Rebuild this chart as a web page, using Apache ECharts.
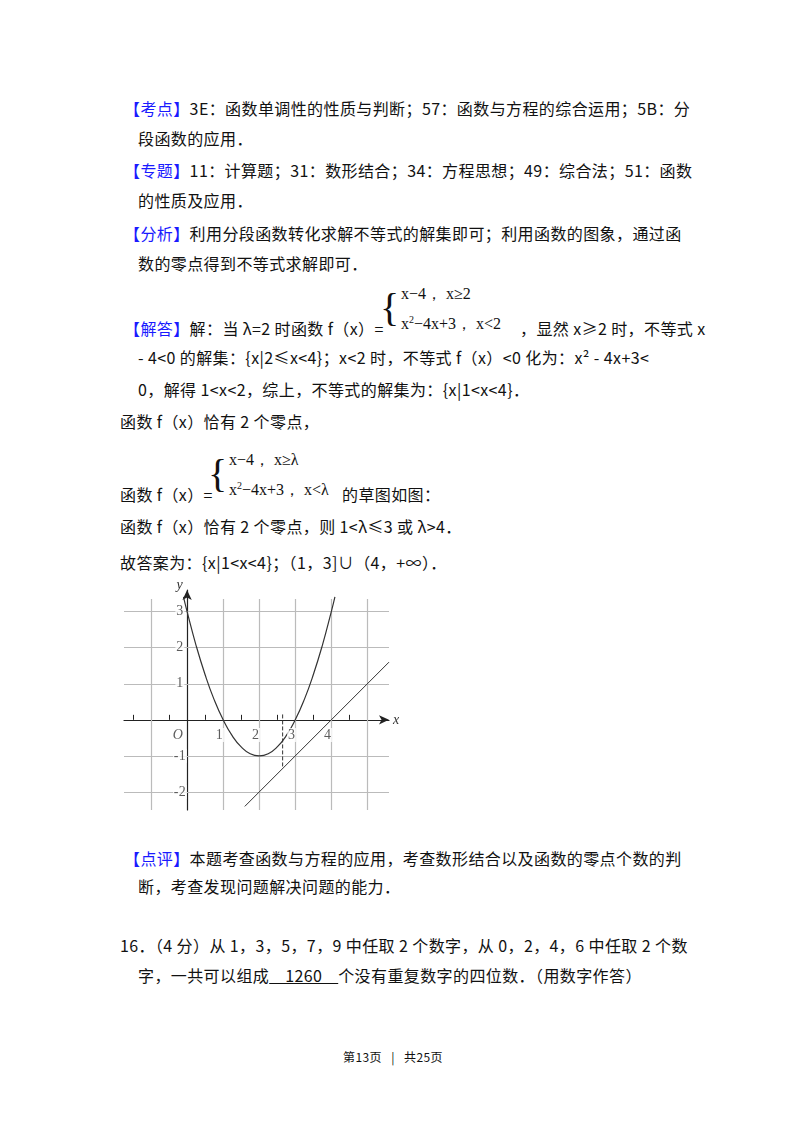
<!DOCTYPE html>
<html><head><meta charset="utf-8">
<script src="https://cdn.jsdelivr.net/npm/echarts@6/dist/echarts.min.js"></script>
<style>
body{margin:0;background:#fff;}
#page{position:relative;width:800px;height:1132px;font-family:"Noto Sans CJK SC","Noto Sans",sans-serif;font-size:16px;letter-spacing:0.4px;color:#111;}
.t{position:absolute;white-space:nowrap;line-height:20px;}
.b{color:#1a1aff;}
.m{font-family:"Liberation Serif",serif;font-size:16px;letter-spacing:0;}
.br{font-family:"Liberation Serif",serif;font-size:40px;line-height:48px;}
#chart{position:absolute;left:120px;top:580px;width:280px;height:240px;}
</style></head><body>
<div id="page">
<div class="t" style="left:124px;top:98px"><span class="b">【考点】</span>3E：函数单调性的性质与判断；57：函数与方程的综合运用；5B：分</div>
<div class="t" style="left:138px;top:128px">段函数的应用．</div>
<div class="t" style="left:124px;top:160px"><span class="b">【专题】</span>11：计算题；31：数形结合；34：方程思想；49：综合法；51：函数</div>
<div class="t" style="left:138px;top:190px">的性质及应用．</div>
<div class="t" style="left:124px;top:223px"><span class="b">【分析】</span>利用分段函数转化求解不等式的解集即可；利用函数的图象，通过函</div>
<div class="t" style="left:138px;top:253px">数的零点得到不等式求解即可．</div>
<div class="t br" style="left:380px;top:284px">{</div>
<div class="t m" style="left:401px;top:284px">x−4， x≥2</div>
<div class="t m" style="left:401px;top:310px">x<sup style="font-size:10px">2</sup>−4x+3， x&lt;2</div>
<div class="t" style="left:124px;top:318px"><span class="b">【解答】</span>解：当 λ=2 时函数 f（x）=</div>
<div class="t" style="left:520px;top:318px">，显然 x≥2 时，不等式 x</div>
<div class="t" style="left:138px;top:347px">- 4&lt;0 的解集：{x|2≤x&lt;4}；x&lt;2 时，不等式 f（x）&lt;0 化为：x² - 4x+3&lt;</div>
<div class="t" style="left:138px;top:379px">0，解得 1&lt;x&lt;2，综上，不等式的解集为：{x|1&lt;x&lt;4}．</div>
<div class="t" style="left:120px;top:411px">函数 f（x）恰有 2 个零点，</div>
<div class="t br" style="left:208px;top:450px">{</div>
<div class="t m" style="left:229px;top:450px">x−4， x≥λ</div>
<div class="t m" style="left:229px;top:476px">x<sup style="font-size:10px">2</sup>−4x+3， x&lt;λ</div>
<div class="t" style="left:120px;top:484px">函数 f（x）=</div>
<div class="t" style="left:342px;top:484px">的草图如图：</div>
<div class="t" style="left:120px;top:516px">函数 f（x）恰有 2 个零点，则 1&lt;λ≤3 或 λ&gt;4．</div>
<div class="t" style="left:120px;top:552px">故答案为：{x|1&lt;x&lt;4}；（1，3]∪（4，+∞）．</div>
<div id="chart"></div>
<div class="t" style="left:124px;top:848px"><span class="b">【点评】</span>本题考查函数与方程的应用，考查数形结合以及函数的零点个数的判</div>
<div class="t" style="left:138px;top:876px">断，考查发现问题解决问题的能力．</div>
<div class="t" style="left:120px;top:935px">16．（4 分）从 1，3，5，7，9 中任取 2 个数字，从 0，2，4，6 中任取 2 个数</div>
<div class="t" style="left:138px;top:965px">字，一共可以组成<span style="text-decoration:underline">&nbsp;&nbsp;&nbsp;&nbsp;1260&nbsp;&nbsp;&nbsp;&nbsp;</span>个没有重复数字的四位数．（用数字作答）</div>
<div class="t" style="left:343px;top:1047px;font-size:12px">第13页 &nbsp;&nbsp;| &nbsp;&nbsp;共25页</div>
</div>
<script>
var gridX = [-1, 1, 2, 3, 4, 5];
var gridY = [-2, -1, 1, 2, 3];
var tickX = [-1.5, -0.5, 0.5, 1.5, 2.5, 3.5, 4.5];
var labelX = [1, 2, 3, 4];
var labelY = [3, 2, 1, -1, -2];
var curveX = [-0.1, 0, 0.25, 0.5, 0.75, 1, 1.25, 1.5, 1.75, 2, 2.25, 2.5, 2.75, 3, 3.25, 3.5, 3.75, 4, 4.1];
var curveY = [3.41, 3, 2.06, 1.25, 0.56, 0, -0.44, -0.75, -0.94, -1, -0.94, -0.75, -0.44, 0, 0.56, 1.25, 2.06, 3, 3.41];
var lineX = [1.6, 5.6];
var lineY = [-2.4, 1.6];
var dashX = [2.65, 2.65];
var dashY = [0.15, -1.35];

function pairs(xs, ys) {
    return xs.map(function (x, i) { return [x, ys[i]]; });
}
var gridLines = [];
gridX.forEach(function (x) { gridLines.push([{coord: [x, 3.35]}, {coord: [x, -2.5]}]); });
gridY.forEach(function (y) { gridLines.push([{coord: [-1.75, y]}, {coord: [5.6, y]}]); });

// 刻度文字放在坐标轴旁边
var xLabelData = labelX.map(function (v) { return {value: [v - 0.1, -0.42], name: String(v)}; });
var yLabelData = labelY.map(function (v) { return {value: [-0.2, v], name: String(v)}; });
xLabelData.push({value: [-0.25, -0.42], name: 'O', label: {fontStyle: 'italic'}});

var chart = echarts.init(document.getElementById('chart'));
var serif = 'Liberation Serif';
chart.setOption({
    animation: false,
    grid: {left: 4, right: 11, top: 10, bottom: 10, outerBoundsMode: 'none', containLabel: false},
    xAxis: {
        type: 'value', min: -1.75, max: 5.6,
        splitLine: {show: false},
        axisLine: {onZero: true, symbol: ['none', 'arrow'], symbolSize: [7, 10], lineStyle: {color: '#222', width: 1.2}},
        axisTick: {show: true, inside: true, length: 5, customValues: tickX, lineStyle: {color: '#222'}},
        axisLabel: {show: false},
        name: 'x', nameGap: 4, nameTextStyle: {fontFamily: serif, fontStyle: 'italic', fontSize: 14, color: '#333'}
    },
    yAxis: {
        type: 'value', min: -2.5, max: 3.6,
        splitLine: {show: false},
        axisLine: {onZero: true, symbol: ['none', 'arrow'], symbolSize: [7, 10], lineStyle: {color: '#222', width: 1.2}},
        axisTick: {show: false},
        axisLabel: {show: false},
        name: 'y', nameGap: -2, nameLocation: 'end',
        nameTextStyle: {fontFamily: serif, fontStyle: 'italic', fontSize: 14, color: '#333', align: 'right', padding: [0, 4, 0, 0]}
    },
    series: [
        {
            type: 'line', data: [], silent: true,
            markLine: {symbol: 'none', silent: true, label: {show: false},
                lineStyle: {color: '#bbb', type: 'solid', width: 1.2}, data: gridLines}
        },
        {type: 'line', data: pairs(curveX, curveY), smooth: true, showSymbol: false, lineStyle: {color: '#333', width: 1.2}, z: 5},
        {type: 'line', data: pairs(lineX, lineY), showSymbol: false, lineStyle: {color: '#333', width: 1}, z: 5},
        {type: 'line', data: pairs(dashX, dashY), showSymbol: false, lineStyle: {color: '#333', width: 1, type: [4, 2]}, z: 5},
        {type: 'scatter', data: xLabelData.concat(yLabelData), symbolSize: 0, silent: true, z: 6,
            label: {show: true, position: 'inside', formatter: '{b}', fontFamily: serif, fontSize: 14, color: '#333',
                backgroundColor: '#fff', padding: [0, 1]}}
    ]
});
</script>
</body></html>
